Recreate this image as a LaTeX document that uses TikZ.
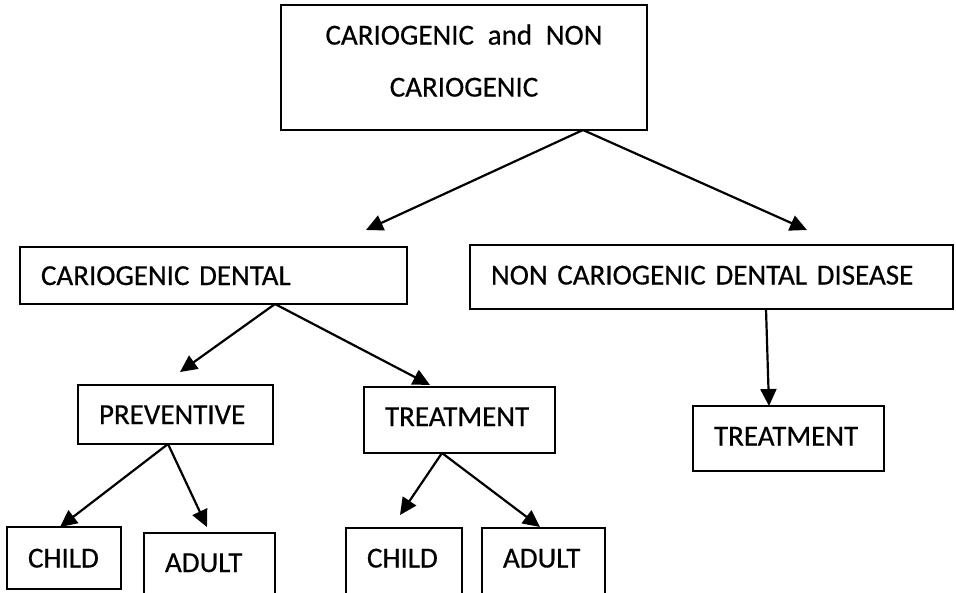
\documentclass[tikz,border=0pt]{standalone}
\usepackage{fontspec}
\setmainfont{Carlito}[FakeBold=0.5]
\usetikzlibrary{arrows.meta,calc}
\begin{document}
\begin{tikzpicture}[x=1pt,y=-1pt,
  every node/.style={font=\fontsize{29}{35}\selectfont},
  box/.style={draw, line width=1.8pt, inner xsep=21pt, inner ysep=0pt,
    text height=19pt, text depth=0pt, align=left, anchor=west, outer sep=0pt},
  topbox/.style={draw, line width=1.8pt, inner sep=0pt, outer sep=0pt,
    align=center, font=\fontsize{29}{52}\selectfont},
  conn/.style={line width=2.2pt, -{Triangle[length=17pt,width=16pt]}}]
\useasboundingbox (0,0) rectangle (956,592);
\clip (0,0) rectangle (956,592);

% boxes
\node[topbox, minimum width=366pt, minimum height=125pt] (top) at (464,67.5)
  {CARIOGENIC\hspace{13.75pt}and\hspace{13.75pt}NON\\CARIOGENIC\rule[-14pt]{0pt}{14pt}};
\node[box, text width=345pt, minimum height=57pt] (cd) at (20,275.5) {CARIOGENIC DENTAL};
\node[box, text width=441pt, minimum height=64pt, text depth=4pt] (ncd) at (470,277) {NON CARIOGENIC DENTAL DISEASE};
\node[box, text width=153pt, minimum height=59pt] (prev) at (78,414.5) {PREVENTIVE};
\node[box, text width=149pt, minimum height=66pt, text depth=7pt] (treat1) at (364,420) {TREATMENT};
\node[box, text width=149pt, minimum height=65pt, text depth=5pt] (treat2) at (693,438.5) {TREATMENT};
\node[box, text width=72pt, minimum height=62pt] (child1) at (7,558) {CHILD};
\node[box, text width=89pt, minimum height=63pt, text depth=4pt] (adult1) at (144,564.5) {ADULT};
\node[box, text width=74pt, minimum height=68pt, text depth=8pt] (child2) at (346,562) {CHILD};
\node[box, text width=81pt, minimum height=68pt, text depth=8pt] (adult2) at (482,562) {ADULT};

% connectors
\draw[conn] ($(top.south west)+(302,0)$) -- ($(cd.north west)+(346,-17)$);
\draw[conn] ($(top.south west)+(302,0)$) -- ($(ncd.north west)+(337,-15)$);
\draw[conn] ($(cd.south west)+(255,0)$) -- ($(prev.north west)+(102,-13)$);
\draw[conn] ($(cd.south west)+(255,0)$) -- ($(treat1.north west)+(66,-2)$);
\draw[conn] ($(ncd.south west)+(296,0)$) -- ($(treat2.north west)+(76,0)$);
\draw[conn] ($(prev.south west)+(90,0)$) -- ($(child1.north west)+(53,0)$);
\draw[conn] ($(prev.south west)+(90,0)$) -- ($(adult1.north west)+(63,-6)$);
\draw[conn] ($(treat1.south west)+(78,0)$) -- ($(child2.north west)+(54,-13)$);
\draw[conn] ($(treat1.south west)+(78,0)$) -- ($(adult2.north west)+(58,-1)$);
\end{tikzpicture}
\end{document}
